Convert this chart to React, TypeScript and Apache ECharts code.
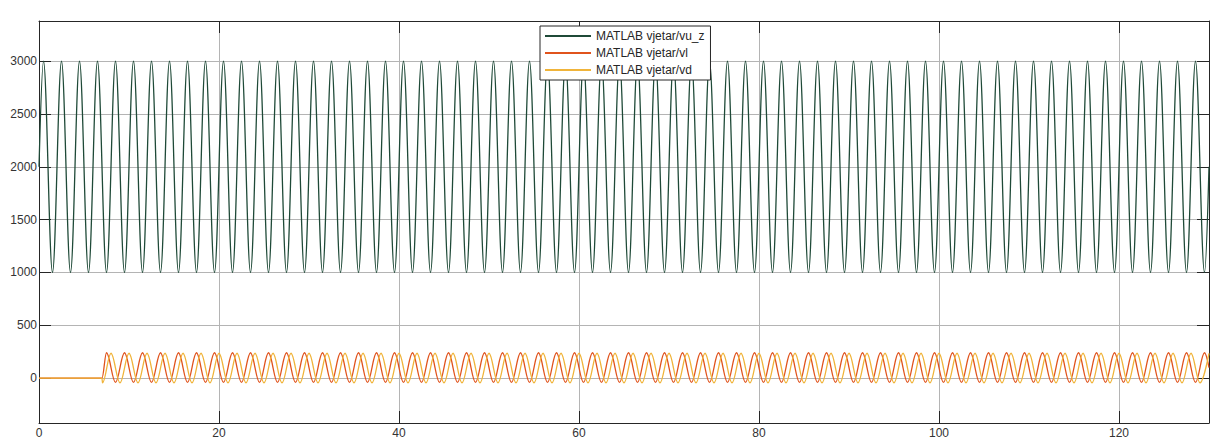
import React, { useEffect, useRef } from "react";
import * as echarts from "echarts";

// ---- data (extrema of each trace, in seconds) ----
const vuzTime = [
  0,
  0.5, 1.5, 2.5, 3.5, 4.5, 5.5, 6.5, 7.5, 8.5, 9.5,
  10.5, 11.5, 12.5, 13.5, 14.5, 15.5, 16.5, 17.5, 18.5, 19.5,
  20.5, 21.5, 22.5, 23.5, 24.5, 25.5, 26.5, 27.5, 28.5, 29.5,
  30.5, 31.5, 32.5, 33.5, 34.5, 35.5, 36.5, 37.5, 38.5, 39.5,
  40.5, 41.5, 42.5, 43.5, 44.5, 45.5, 46.5, 47.5, 48.5, 49.5,
  50.5, 51.5, 52.5, 53.5, 54.5, 55.5, 56.5, 57.5, 58.5, 59.5,
  60.5, 61.5, 62.5, 63.5, 64.5, 65.5, 66.5, 67.5, 68.5, 69.5,
  70.5, 71.5, 72.5, 73.5, 74.5, 75.5, 76.5, 77.5, 78.5, 79.5,
  80.5, 81.5, 82.5, 83.5, 84.5, 85.5, 86.5, 87.5, 88.5, 89.5,
  90.5, 91.5, 92.5, 93.5, 94.5, 95.5, 96.5, 97.5, 98.5, 99.5,
  100.5, 101.5, 102.5, 103.5, 104.5, 105.5, 106.5, 107.5, 108.5, 109.5,
  110.5, 111.5, 112.5, 113.5, 114.5, 115.5, 116.5, 117.5, 118.5, 119.5,
  120.5, 121.5, 122.5, 123.5, 124.5, 125.5, 126.5, 127.5, 128.5, 129.5,
  130,
];
const vuzValue = [
  2000,
  3000, 1000, 3000, 1000, 3000, 1000, 3000, 1000, 3000, 1000,
  3000, 1000, 3000, 1000, 3000, 1000, 3000, 1000, 3000, 1000,
  3000, 1000, 3000, 1000, 3000, 1000, 3000, 1000, 3000, 1000,
  3000, 1000, 3000, 1000, 3000, 1000, 3000, 1000, 3000, 1000,
  3000, 1000, 3000, 1000, 3000, 1000, 3000, 1000, 3000, 1000,
  3000, 1000, 3000, 1000, 3000, 1000, 3000, 1000, 3000, 1000,
  3000, 1000, 3000, 1000, 3000, 1000, 3000, 1000, 3000, 1000,
  3000, 1000, 3000, 1000, 3000, 1000, 3000, 1000, 3000, 1000,
  3000, 1000, 3000, 1000, 3000, 1000, 3000, 1000, 3000, 1000,
  3000, 1000, 3000, 1000, 3000, 1000, 3000, 1000, 3000, 1000,
  3000, 1000, 3000, 1000, 3000, 1000, 3000, 1000, 3000, 1000,
  3000, 1000, 3000, 1000, 3000, 1000, 3000, 1000, 3000, 1000,
  3000, 1000, 3000, 1000, 3000, 1000, 3000, 1000, 3000, 1000,
  2000,
];

const vlTime = [
  0, 7,
  7.5, 8.5, 9.5,
  10.5, 11.5, 12.5, 13.5, 14.5, 15.5, 16.5, 17.5, 18.5, 19.5,
  20.5, 21.5, 22.5, 23.5, 24.5, 25.5, 26.5, 27.5, 28.5, 29.5,
  30.5, 31.5, 32.5, 33.5, 34.5, 35.5, 36.5, 37.5, 38.5, 39.5,
  40.5, 41.5, 42.5, 43.5, 44.5, 45.5, 46.5, 47.5, 48.5, 49.5,
  50.5, 51.5, 52.5, 53.5, 54.5, 55.5, 56.5, 57.5, 58.5, 59.5,
  60.5, 61.5, 62.5, 63.5, 64.5, 65.5, 66.5, 67.5, 68.5, 69.5,
  70.5, 71.5, 72.5, 73.5, 74.5, 75.5, 76.5, 77.5, 78.5, 79.5,
  80.5, 81.5, 82.5, 83.5, 84.5, 85.5, 86.5, 87.5, 88.5, 89.5,
  90.5, 91.5, 92.5, 93.5, 94.5, 95.5, 96.5, 97.5, 98.5, 99.5,
  100.5, 101.5, 102.5, 103.5, 104.5, 105.5, 106.5, 107.5, 108.5, 109.5,
  110.5, 111.5, 112.5, 113.5, 114.5, 115.5, 116.5, 117.5, 118.5, 119.5,
  120.5, 121.5, 122.5, 123.5, 124.5, 125.5, 126.5, 127.5, 128.5, 129.5,
  130,
];
const vlValue = [
  0, 0,
  240, -40, 240,
  -40, 240, -40, 240, -40, 240, -40, 240, -40, 240,
  -40, 240, -40, 240, -40, 240, -40, 240, -40, 240,
  -40, 240, -40, 240, -40, 240, -40, 240, -40, 240,
  -40, 240, -40, 240, -40, 240, -40, 240, -40, 240,
  -40, 240, -40, 240, -40, 240, -40, 240, -40, 240,
  -40, 240, -40, 240, -40, 240, -40, 240, -40, 240,
  -40, 240, -40, 240, -40, 240, -40, 240, -40, 240,
  -40, 240, -40, 240, -40, 240, -40, 240, -40, 240,
  -40, 240, -40, 240, -40, 240, -40, 240, -40, 240,
  -40, 240, -40, 240, -40, 240, -40, 240, -40, 240,
  -40, 240, -40, 240, -40, 240, -40, 240, -40, 240,
  -40, 240, -40, 240, -40, 240, -40, 240, -40, 240,
  100,
];

const vdTime = [
  0, 7, 7.05,
  8, 9,
  10, 11, 12, 13, 14, 15, 16, 17, 18, 19,
  20, 21, 22, 23, 24, 25, 26, 27, 28, 29,
  30, 31, 32, 33, 34, 35, 36, 37, 38, 39,
  40, 41, 42, 43, 44, 45, 46, 47, 48, 49,
  50, 51, 52, 53, 54, 55, 56, 57, 58, 59,
  60, 61, 62, 63, 64, 65, 66, 67, 68, 69,
  70, 71, 72, 73, 74, 75, 76, 77, 78, 79,
  80, 81, 82, 83, 84, 85, 86, 87, 88, 89,
  90, 91, 92, 93, 94, 95, 96, 97, 98, 99,
  100, 101, 102, 103, 104, 105, 106, 107, 108, 109,
  110, 111, 112, 113, 114, 115, 116, 117, 118, 119,
  120, 121, 122, 123, 124, 125, 126, 127, 128, 129,
  130,
];
const vdValue = [
  0, 0, -45,
  235, -45,
  235, -45, 235, -45, 235, -45, 235, -45, 235, -45,
  235, -45, 235, -45, 235, -45, 235, -45, 235, -45,
  235, -45, 235, -45, 235, -45, 235, -45, 235, -45,
  235, -45, 235, -45, 235, -45, 235, -45, 235, -45,
  235, -45, 235, -45, 235, -45, 235, -45, 235, -45,
  235, -45, 235, -45, 235, -45, 235, -45, 235, -45,
  235, -45, 235, -45, 235, -45, 235, -45, 235, -45,
  235, -45, 235, -45, 235, -45, 235, -45, 235, -45,
  235, -45, 235, -45, 235, -45, 235, -45, 235, -45,
  235, -45, 235, -45, 235, -45, 235, -45, 235, -45,
  235, -45, 235, -45, 235, -45, 235, -45, 235, -45,
  235, -45, 235, -45, 235, -45, 235, -45, 235, -45,
  235,
];

const seriesNames = ["MATLAB vjetar/vu_z", "MATLAB vjetar/vl", "MATLAB vjetar/vd"];
const seriesColors = ["#1f4a38", "#e0531c", "#f0b43a"];

const xTickLabels = [0, 20, 40, 60, 80, 100, 120];
const yTickLabels = [0, 500, 1000, 1500, 2000, 2500, 3000];

const FONT = "'Liberation Sans', Arial, Helvetica, sans-serif";

function pairs(t: number[], v: number[]) {
  return t.map((x, i) => [x, v[i]]);
}

export default function App() {
  const ref = useRef<HTMLDivElement>(null);
  useEffect(() => {
    document.body.style.margin = "0";
    if (!ref.current) return;
    const chart = echarts.init(ref.current, undefined, { renderer: "svg" });
    const frame = "#262626";
    const gridColor = "#b4b4b4";
    const tick = { show: true, inside: true, length: 12, lineStyle: { color: frame, width: 1 } };
    const datasets = [pairs(vuzTime, vuzValue), pairs(vlTime, vlValue), pairs(vdTime, vdValue)];
    chart.setOption({
      animation: false,
      backgroundColor: "#ffffff",
      textStyle: { fontFamily: FONT },
      grid: { left: 39, right: 2, top: 21, bottom: 17, containLabel: false },
      legend: {
        show: true,
        left: 540,
        top: 26,
        orient: "vertical",
        padding: [3, 6, 3, 5],
        itemGap: 3,
        itemWidth: 46,
        itemHeight: 2,
        icon: "rect",
        backgroundColor: "#ffffff",
        borderColor: frame,
        borderWidth: 1,
        borderRadius: 0,
        textStyle: { fontFamily: FONT, fontSize: 12, color: "#262626", lineHeight: 14 },
        data: seriesNames,
      },
      xAxis: [
        {
          type: "value",
          min: 0,
          max: 130,
          interval: 20,
          position: "bottom",
          axisLine: { show: true, onZero: false, lineStyle: { color: frame, width: 1 } },
          axisTick: tick,
          axisLabel: {
            show: true,
            margin: 4,
            fontSize: 12,
            color: "#333333",
            fontFamily: FONT,
            showMaxLabel: false,
            formatter: (v: number) => (xTickLabels.indexOf(v) >= 0 ? String(v) : ""),
          },
          splitLine: { show: true, lineStyle: { color: gridColor, width: 1 } },
        },
        {
          type: "value",
          min: 0,
          max: 130,
          interval: 20,
          position: "top",
          axisLine: { show: true, onZero: false, lineStyle: { color: frame, width: 1 } },
          axisTick: tick,
          axisLabel: { show: false },
          splitLine: { show: false },
        },
      ],
      yAxis: [
        {
          type: "value",
          min: -425,
          max: 3380,
          splitNumber: 8,
          position: "left",
          axisLine: { show: true, onZero: false, lineStyle: { color: frame, width: 1 } },
          axisTick: tick,
          axisLabel: {
            show: true,
            margin: 2,
            fontSize: 12,
            color: "#333333",
            fontFamily: FONT,
            formatter: (v: number) => (yTickLabels.indexOf(v) >= 0 ? String(v) : ""),
          },
          splitLine: { show: true, lineStyle: { color: gridColor, width: 1 } },
        },
        {
          type: "value",
          min: -425,
          max: 3380,
          splitNumber: 8,
          position: "right",
          axisLine: { show: true, onZero: false, lineStyle: { color: frame, width: 1 } },
          axisTick: tick,
          axisLabel: { show: false },
          splitLine: { show: false },
        },
      ],
      series: seriesNames.map((name, i) => ({
        name,
        type: "line",
        xAxisIndex: 0,
        yAxisIndex: 0,
        data: datasets[i],
        showSymbol: false,
        symbol: "none",
        smooth: 0.36,
        smoothMonotone: "x",
        color: seriesColors[i],
        lineStyle: { color: seriesColors[i], width: 1.3 },
        emphasis: { disabled: true },
        z: 2 + i,
      })),
    });
    return () => chart.dispose();
  }, []);
  return <div ref={ref} style={{ width: 1211, height: 440 }} />;
}
